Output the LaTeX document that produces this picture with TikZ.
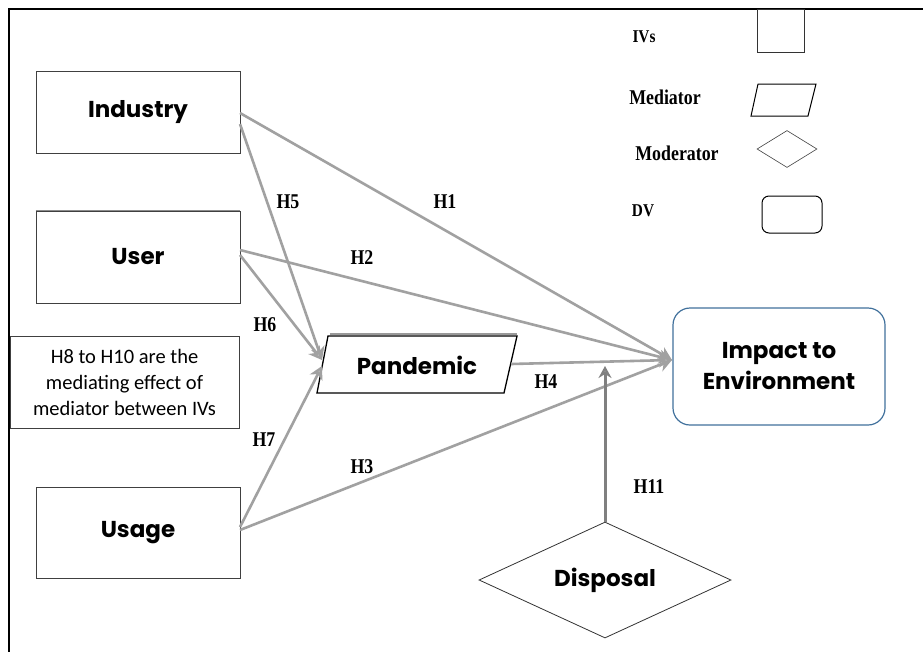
\documentclass[tikz,border=0pt]{standalone}
\usepackage{fontspec}
\setmainfont{Liberation Serif}
\newfontfamily\nodefont{Poppins}
\newfontfamily\notefont{Carlito}
\newfontfamily\labfont[FakeStretch=0.85]{Liberation Serif}
\usetikzlibrary{arrows.meta,shapes.geometric}
\definecolor{dvblue}{HTML}{41719C}
\begin{document}
\begin{tikzpicture}[x=1pt,y=-1pt,
  ivbox/.style={draw=black!75, line width=0.8pt, rectangle, minimum width=204pt, inner sep=0pt,
     font=\nodefont\bfseries\fontsize{23}{26}\selectfont},
  medtext/.style={font=\nodefont\bfseries\fontsize{23}{26}\selectfont, inner sep=0pt},
  hlab/.style={font=\labfont\bfseries\fontsize{21}{22}\selectfont, inner sep=0pt},
  legtext/.style={font=\labfont\bfseries\fontsize{21}{24}\selectfont, inner sep=0pt},
  legsmall/.style={font=\labfont\bfseries\fontsize{18}{22}\selectfont, inner sep=0pt},
  path arrow/.style={draw=black!37, line width=2.6pt,
     -{Stealth[length=13pt,width=14pt,inset=4pt,fill=black!28]}},
  mod arrow/.style={draw=black!50, line width=3pt,
     -{Stealth[length=12pt,width=13pt,inset=4pt,fill=black!35]}}
]
\useasboundingbox (0,0) rectangle (923,651);
\fill[white] (0,0) rectangle (923,651);
% outer frame
\draw[line width=1.6pt] (9,660) -- (9,9) -- (930,9);

% legend
\node[legsmall] (lgiv) at (644,37) {IVs};
\node[draw=black!80, line width=0.6pt, minimum width=47pt, minimum height=43pt, inner sep=0pt] (lgivs) at (781,31) {};
\node[legtext] (lgmed) at (665,97) {Mediator};
\draw[line width=1pt] (758,84) -- (816,84) -- (808,116) -- (751,116) -- cycle;
\node[legtext] (lgmod) at (677,153) {Moderator};
\node[draw=black!75, line width=0.6pt, diamond, aspect=1.6, minimum width=60pt, minimum height=37pt, inner sep=0pt] (lgmods) at (787,149) {};
\node[legsmall] (lgdv) at (643,211) {DV};
\node[draw, line width=1pt, rounded corners=7pt, minimum width=60pt, minimum height=37pt, inner sep=0pt] (lgdvs) at (792,214.5) {};

% IV boxes
\node[ivbox, minimum height=82pt] (ind) at (138,112) {Industry};
\node[ivbox, minimum height=92pt] (usr) at (138,257) {User};
\node[ivbox, minimum height=91pt] (usg) at (138,532.5) {Usage};
\draw[black!45, line width=1.5pt] (usr.north west) -- (usr.north east);

% note
\node[draw=black!75, line width=0.8pt, minimum width=229pt, minimum height=92pt, inner sep=0pt,
  align=center, font=\notefont\fontsize{20.5}{26}\selectfont] (note) at (124.5,382)
  {H8 to H10 are the\\mediating effect of\\mediator between IVs};

% mediator
\node[medtext] (pan) at (417,365) {Pandemic};
\draw[line width=1.3pt] (317,393) -- (328,336) -- (517,336) -- (504,393) -- cycle;
\draw[black!40, line width=1.2pt] (330,334) -- (517,334);
\coordinate (panin) at (322,360);
\coordinate (panout) at (511,364);

% DV
\node[draw=dvblue, line width=1.2pt, rounded corners=17pt, minimum width=212pt, minimum height=117pt,
  inner sep=0pt, align=center, font=\nodefont\bfseries\fontsize{23}{31}\selectfont] (imp) at (779,366.5)
  {Impact to\\Environment};
\coordinate (impin) at (672,360);

% moderator
\node[draw=black!80, line width=0.8pt, diamond, aspect=2.17, minimum width=252pt, minimum height=116pt, inner sep=0pt,
  font=\nodefont\bfseries\fontsize{23}{26}\selectfont] (disp) at (605,580) {Disposal};

% arrows
\coordinate (indA) at (240,113);
\coordinate (indB) at (240,124);
\coordinate (usrA) at (240,250);
\coordinate (usrB) at (240,255);
\coordinate (usgA) at (240,527);
\coordinate (usgB) at (240,530);
\draw[path arrow] (indA) -- (impin);
\draw[path arrow] (usrA) -- (impin);
\draw[path arrow] (usgB) -- (impin);
\draw[path arrow] (panout) -- (impin);
\draw[path arrow] (indB) -- (panin);
\draw[path arrow] (usrB) -- (panin);
\draw[path arrow] (usgA) -- ([yshift=-6pt]panin);
\coordinate (modtgt) at (605,366);
\draw[mod arrow] (disp.north) -- (modtgt);

% labels
\node[hlab] (h1) at (445,202) {H1};
\node[hlab] (h5) at (288,202) {H5};
\node[hlab] (h2) at (362,258) {H2};
\node[hlab] (h6) at (265,325) {H6};
\node[hlab] (h4) at (546,382) {H4};
\node[hlab] (h7) at (264,440) {H7};
\node[hlab] (h3) at (362,467) {H3};
\node[hlab] (h11) at (649,487) {H11};
\end{tikzpicture}
\end{document}
